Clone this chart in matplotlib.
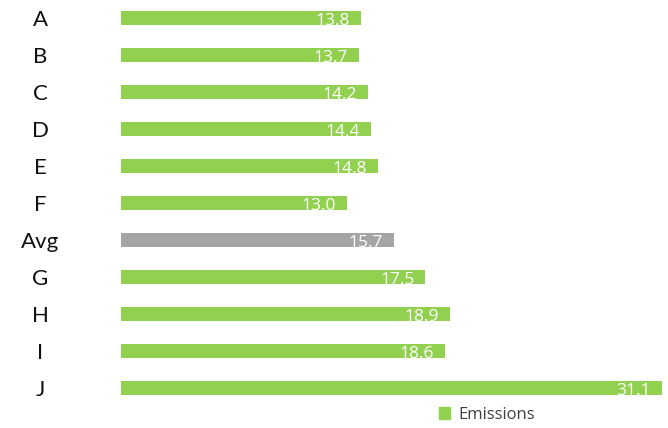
import matplotlib.pyplot as plt
from matplotlib.patches import Patch

# data
categories = ["A", "B", "C", "D", "E", "F", "Avg", "G", "H", "I", "J"]
values = [13.8, 13.7, 14.2, 14.4, 14.8, 13.0, 15.7, 17.5, 18.9, 18.6, 31.1]
green = "#92D050"
gray = "#A5A5A5"
colors = [gray if c == "Avg" else green for c in categories]

fig = plt.figure(figsize=(6.68, 4.28), dpi=100)
ax = fig.add_axes([121 / 668, 21.5 / 428, 541 / 668, 406.5 / 428])

y = list(range(len(categories)))
bars = ax.barh(y, values, height=0.38, color=colors)
ax.set_xlim(0, 31.1)
ax.set_ylim(len(categories) - 0.5, -0.5)

# value labels inside end of bars
for b, v in zip(bars, values):
    ax.annotate(f"{v:.1f}", xy=(b.get_width(), b.get_y() + b.get_height() / 2),
                xytext=(-8, -2), textcoords="offset points",
                ha="right", va="center", color="white", fontsize=12.5,
                family="Open Sans")

ax.set_yticks(y)
ax.set_yticklabels(categories, fontsize=16, family="Lato", color="#111111")
for lbl in ax.get_yticklabels():
    lbl.set_ha("center")
ax.tick_params(axis="y", length=0, pad=58)
ax.set_xticks([])
for s in ax.spines.values():
    s.set_visible(False)

fig.legend(handles=[Patch(color=green, label="Emissions")],
           loc="center", bbox_to_anchor=(487 / 668, 1 - 415 / 428),
           frameon=False, handlelength=0.7, handleheight=0.7,
           handletextpad=0.5, prop={"family": "Open Sans", "size": 12},
           labelcolor="#404040")

fig.savefig("out.png", dpi=100)
